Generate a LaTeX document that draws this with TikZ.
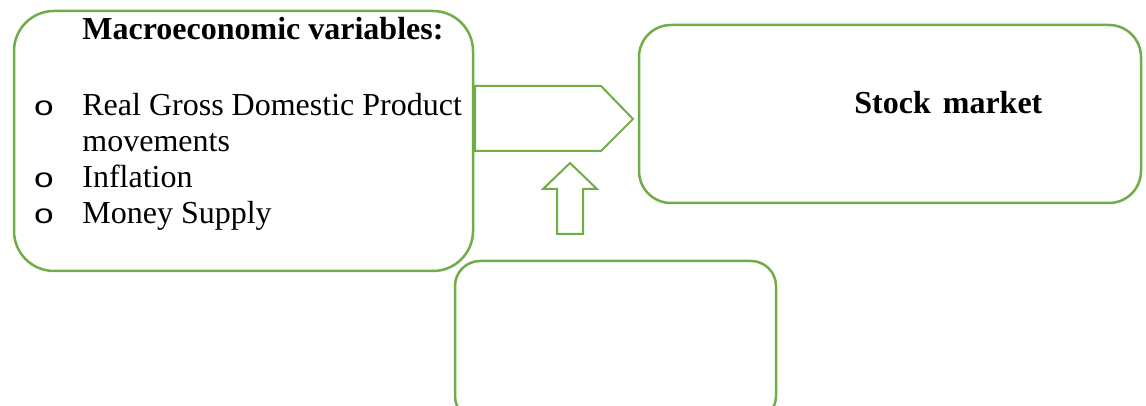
\documentclass[tikz,border=0pt]{standalone}
\usepackage{fontspec}
\usepackage{graphicx}
\setmainfont{Liberation Serif}
\newfontfamily\bulletfont{Liberation Mono}
\definecolor{MyGreen}{HTML}{70AD47}

\newcommand{\itemmark}{{\bulletfont\scalebox{1.1}[0.85]{o}}}

\tikzset{
  box/.style={draw=MyGreen, line width=1.25pt, minimum width=#1, inner sep=0pt},
  blockarrow/.style={draw=MyGreen, line width=1pt},
  txt/.style={anchor=base west, inner sep=0pt, font=\fontsize{16}{18}\selectfont}
}

\begin{document}
\begin{tikzpicture}[x=0.5pt,y=-0.5pt]
        \clip (0,0) rectangle (1146,406);

        \node[box=229.5pt, minimum height=130pt, rounded corners=20pt] (macro) at (243.5,141) {};
        \node[box=251pt, minimum height=89pt, rounded corners=16pt] (stock) at (890,114) {};
        \node[box=160.5pt, minimum height=80pt, rounded corners=12.5pt] (other) at (615.5,341) {};

        \node[txt, font=\fontsize{16}{18}\selectfont\bfseries] (head) at (82,40) {Macroeconomic variables:};
        \node[txt] (b1) at (33,116) {\itemmark};
        \node[txt] (gdp) at (82,116) {Real Gross Domestic Product};
        \node[txt] (gdp2) at (82,152) {movements};
        \node[txt] (b2) at (33,188) {\itemmark};
        \node[txt] (infl) at (82,188) {Inflation};
        \node[txt] (b3) at (33,224) {\itemmark};
        \node[txt] (money) at (82,224) {Money Supply};

        \node[txt, font=\fontsize{16}{18}\selectfont\bfseries] (market) at (854,114) {Stock\hspace{6pt}market};

        % arrow to the stock market
        \coordinate (R1) at (475,86);
        \coordinate (R2) at (601,86);
        \coordinate (Rtip) at (633,119);
        \coordinate (R3) at (601,151);
        \coordinate (R4) at (475,151);
        \draw[blockarrow] (R1) -- (R2) -- (Rtip) -- (R3) -- (R4) -- cycle;

        % arrow from the lower box
        \coordinate (Utip) at (570,163);
        \draw[blockarrow] (Utip) -- (597,189) -- (583,189) -- (583,234)
              -- (557,234) -- (557,189) -- (543,189) -- cycle;
\end{tikzpicture}
\end{document}
